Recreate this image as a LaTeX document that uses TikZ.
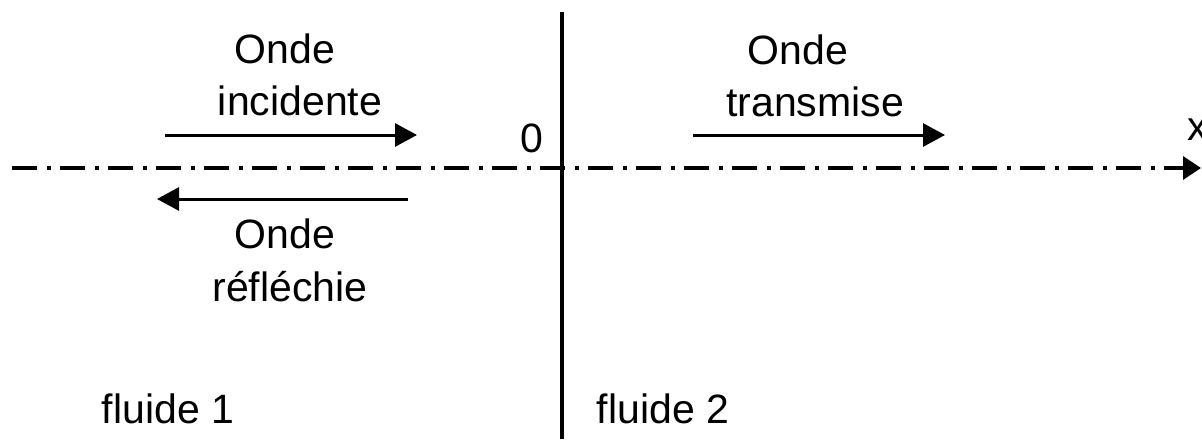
\documentclass[tikz,border=0pt]{standalone}
\usepackage{fontspec}
\setmainfont{Liberation Sans}
\usetikzlibrary{arrows.meta}
\begin{document}
\begin{tikzpicture}[x=0.5pt,y=-0.5pt,
  lbl/.style={anchor=base,inner sep=0pt,font=\fontsize{20.5}{24}\selectfont},
  wave/.style={line width=1.5pt,-{Triangle[length=11pt,width=11.5pt]}},
  axisline/.style={line width=1.7pt,dash pattern=on 12.5pt off 5pt on 2pt off 4.5pt,-{Triangle[length=9pt,width=11.5pt]}},
  wall/.style={line width=2.3pt}]
\useasboundingbox (0,0) rectangle (1202,439);
% wall
\coordinate (wtop) at (562,12);
\coordinate (wbot) at (562,439);
\draw[wall] (wtop) -- (wbot);
% axis
\coordinate (xa) at (12,168);
\coordinate (xb) at (1201,168);
\draw[axisline] (xa) -- (xb);
% arrows
\coordinate (i1) at (165,135); \coordinate (i2) at (417,135);
\coordinate (r1) at (408,199); \coordinate (r2) at (157,199);
\coordinate (t1) at (693,135); \coordinate (t2) at (945,135);
\draw[wave] (i1) -- (i2);
\draw[wave] (r1) -- (r2);
\draw[wave] (t1) -- (t2);
% labels
\node[lbl] (onde1) at (285,63) {Onde};
\node[lbl] (inc) at (300,115) {incidente};
\node[lbl] (onde2) at (798,64) {Onde};
\node[lbl] (trans) at (815,116) {transmise};
\node[lbl] (onde3) at (285,248) {Onde};
\node[lbl] (refl) at (290,301) {réfléchie};
\node[lbl] (zero) at (532,152) {0};
\node[lbl,anchor=base west] (xlbl) at (1187,140) {x};
\node[lbl] (f1) at (168,423) {fluide 1};
\node[lbl] (f2) at (663,423) {fluide 2};
\end{tikzpicture}
\end{document}
